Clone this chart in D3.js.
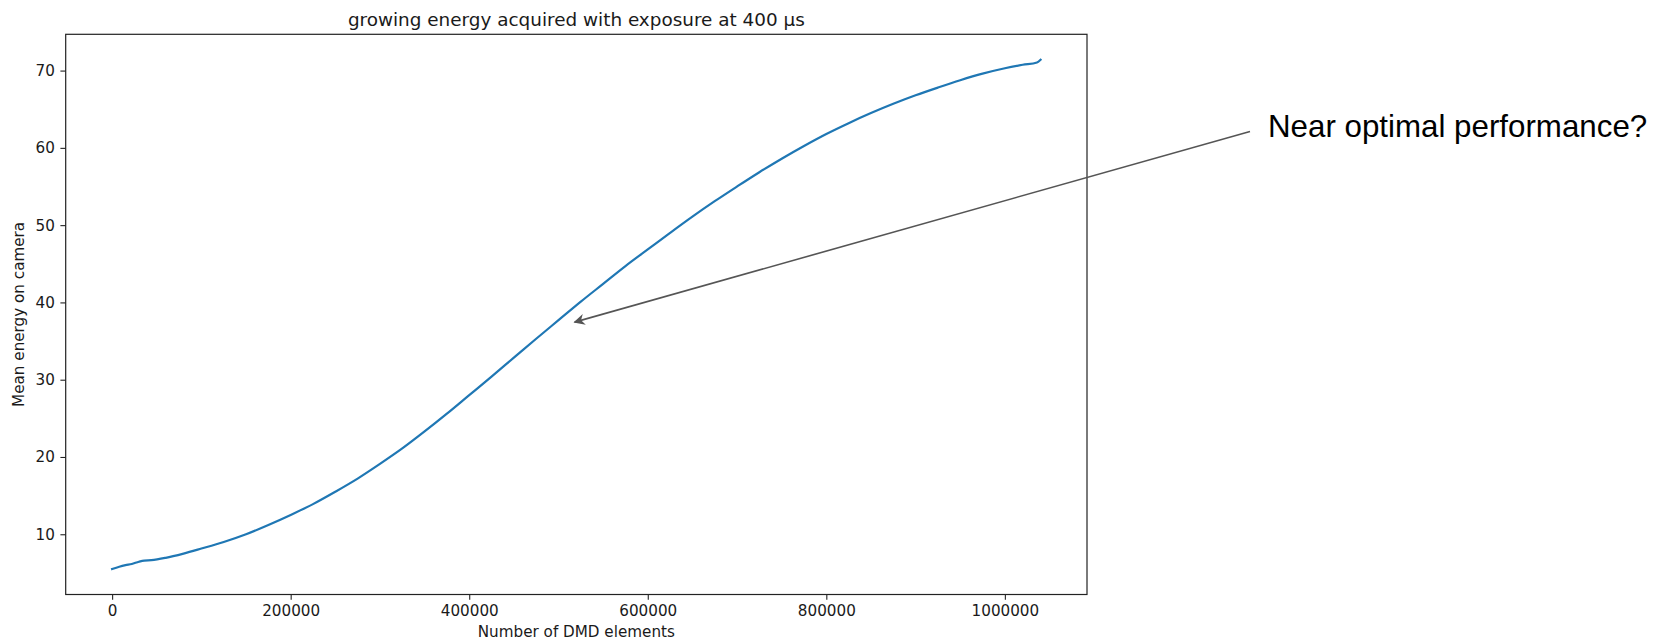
<!DOCTYPE html>
<html lang="en">
  <head>
    <meta charset="UTF-8" />
    <title>growing energy</title>
    <style>
      body { margin: 0; background: #fff; }
    </style>
  </head>
  <body>
    <svg id="chart"></svg>
  </body>
</html>

<script src="https://cdnjs.cloudflare.com/ajax/libs/d3/7.8.5/d3.min.js"></script>

<script>
  // values
  const elements = [
    0, 8000, 15000, 22000, 30000, 36000, 44000, 60000, 80000, 100000, 125000,
    150000, 175000, 200000, 225000, 250000, 275000, 300000, 325000, 350000,
    375000, 400000, 425000, 450000, 475000, 500000, 525000, 550000, 575000,
    600000, 625000, 650000, 675000, 700000, 725000, 750000, 775000, 800000,
    825000, 850000, 875000, 900000, 925000, 950000, 975000, 1000000, 1020000,
    1036000, 1040000,
  ];
  const meanEnergy = [
    5.5, 5.8, 6.0, 6.15, 6.45, 6.6, 6.65, 6.95, 7.5, 8.15, 9.0,
    10.0, 11.2, 12.5, 13.9, 15.5, 17.2, 19.1, 21.1, 23.3,
    25.6, 28.0, 30.4, 32.85, 35.3, 37.7, 40.1, 42.4, 44.7,
    46.85, 49.0, 51.1, 53.1, 55.0, 56.85, 58.6, 60.25, 61.8,
    63.2, 64.5, 65.7, 66.8, 67.8, 68.75, 69.6, 70.3, 70.75,
    71.05, 71.4,
  ];
  const xTicks = [0, 200000, 400000, 600000, 800000, 1000000];
  const yTicks = [10, 20, 30, 40, 50, 60, 70];

  const title = "growing energy acquired with exposure at 400 µs";
  const xLabel = "Number of DMD elements";
  const yLabel = "Mean energy on camera";
  const note = "Near optimal performance?";
  // note arrow tip, in data units
  const noteTip = { x: 518000, y: 37.45 };

  function drawChart({ width = 1659, height = 641 }) {
    const svg = d3.select("#chart").attr("width", width).attr("height", height);
    const box = { left: 65.7, right: 1087, top: 34.3, bottom: 594.5 };
    const mplFont = "font-family: 'DejaVu Sans', sans-serif";

    // matplotlib style 5% margins
    const xExt = d3.extent(elements),
      yExt = d3.extent(meanEnergy);
    const xPad = (xExt[1] - xExt[0]) * 0.05,
      yPad = (yExt[1] - yExt[0]) * 0.05;

    const x = d3
      .scaleLinear()
      .domain([xExt[0] - xPad, xExt[1] + xPad])
      .range([box.left, box.right]);
    const y = d3
      .scaleLinear()
      .domain([yExt[0] - yPad, yExt[1] + yPad])
      .range([box.bottom, box.top]);

    const xAxis = d3.axisBottom(x).tickValues(xTicks).tickFormat(d3.format("d")).tickSizeOuter(0).tickSize(5.3).tickPadding(5.5);
    const yAxis = d3.axisLeft(y).tickValues(yTicks).tickFormat(d3.format("d")).tickSizeOuter(0).tickSize(5.3).tickPadding(5.5);

    const gx = svg.append("g").attr("transform", `translate(0, ${box.bottom})`).call(xAxis);
    const gy = svg.append("g").attr("transform", `translate(${box.left}, 0)`).call(yAxis);
    [gx, gy].forEach((g) => {
      g.select(".domain").remove();
      g.selectAll("line").attr("stroke", "#222").attr("stroke-width", 1.1);
      g.selectAll("text")
        .attr("style", mplFont)
        .attr("font-size", 15.2)
        .attr("fill", "#1a1a1a");
    });

    // the curve
    const line = d3
      .line()
      .x((d, i) => x(elements[i]))
      .y((d) => y(d))
      .curve(d3.curveMonotoneX);
    svg
      .append("path")
      .datum(meanEnergy)
      .attr("fill", "none")
      .attr("stroke", "#1f77b4")
      .attr("stroke-width", 2.2)
      .attr("stroke-linejoin", "round")
      .attr("stroke-linecap", "square")
      .attr("d", line);

    // frame
    svg
      .append("rect")
      .attr("x", box.left)
      .attr("y", box.top)
      .attr("width", box.right - box.left)
      .attr("height", box.bottom - box.top)
      .attr("fill", "none")
      .attr("stroke", "#222")
      .attr("stroke-width", 1.2);

    const midX = (box.left + box.right) / 2;
    svg.append("text").attr("style", mplFont).attr("fill", "#1a1a1a")
      .attr("x", midX).attr("y", 26).attr("text-anchor", "middle").attr("font-size", 18.4).text(title);
    svg.append("text").attr("style", mplFont).attr("fill", "#1a1a1a")
      .attr("x", midX).attr("y", 637).attr("text-anchor", "middle").attr("font-size", 15.2).text(xLabel);
    svg
      .append("text")
      .attr("style", mplFont)
      .attr("fill", "#1a1a1a")
      .attr("transform", `translate(24, ${(box.top + box.bottom) / 2}) rotate(-90)`)
      .attr("text-anchor", "middle")
      .attr("font-size", 15.2)
      .text(yLabel);

    // annotation
    svg
      .append("defs")
      .append("marker")
      .attr("id", "head")
      .attr("viewBox", "0 0 10 10")
      .attr("refX", 9)
      .attr("refY", 5)
      .attr("markerWidth", 7)
      .attr("markerHeight", 7)
      .attr("orient", "auto")
      .append("path")
      .attr("d", "M0,0 L10,5 L0,10 L3,5 Z")
      .attr("fill", "#555");

    svg
      .append("line")
      .attr("x1", 1250)
      .attr("y1", 131.5)
      .attr("x2", x(noteTip.x))
      .attr("y2", y(noteTip.y))
      .attr("stroke", "#555")
      .attr("stroke-width", 1.6)
      .attr("marker-end", "url(#head)");

    svg
      .append("text")
      .attr("x", 1268)
      .attr("y", 137)
      .attr("style", "font-family: 'Liberation Sans', Arial, sans-serif")
      .attr("font-size", 31.3)
      .attr("fill", "#000")
      .text(note);
  }

  drawChart({});
</script>
